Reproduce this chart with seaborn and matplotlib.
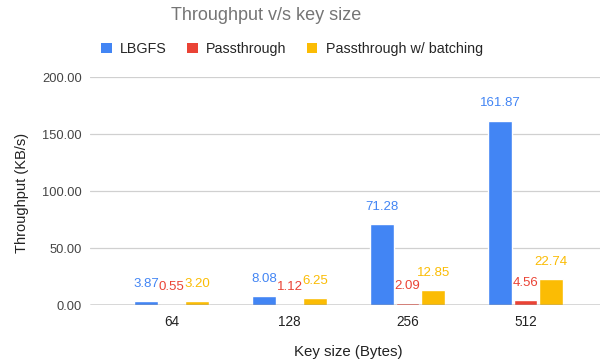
import seaborn as sns
import pandas as pd
import matplotlib.pyplot as plt
from matplotlib.patches import Patch

# Chart data
key_sizes = ['64', '128', '256', '512']
series_names = ['LBGFS', 'Passthrough', 'Passthrough w/ batching']
lbgfs = [3.87, 8.08, 71.28, 161.87]
passthrough = [0.55, 1.12, 2.09, 4.56]
passthrough_batching = [3.20, 6.25, 12.85, 22.74]
y_ticks = [0, 50, 100, 150, 200]

colors = ['#4285F4', '#EA4335', '#FBBC04']

# Long-form table for seaborn
rows = []
for name, vals in zip(series_names, [lbgfs, passthrough, passthrough_batching]):
    for k, v in zip(key_sizes, vals):
        rows.append({'Key size': k, 'Series': name, 'Throughput': v})
df = pd.DataFrame(rows)

sns.set_theme(style='white')
plt.rcParams['font.family'] = ['Liberation Sans', 'DejaVu Sans']

fig = plt.figure(figsize=(6, 3.64), dpi=100)
ax = fig.add_axes([0.15, 0.162, 0.85, 0.626])

sns.barplot(data=df, x='Key size', y='Throughput', hue='Series',
            order=key_sizes, hue_order=series_names, palette=colors,
            width=0.65, gap=0.08, saturation=1, legend=False, ax=ax)

# Value labels above bars
for container, c in zip(ax.containers, colors):
    ax.bar_label(container, fmt='%.2f', padding=8, color=c, fontsize=9.5)

ax.set_ylim(0, 200)
ax.set_xlim(-0.69, 3.63)
ax.set_yticks(y_ticks)
ax.set_yticklabels([f'{t:.2f}' for t in y_ticks])
ax.yaxis.grid(True, color='#d0d0d0', linewidth=0.9)
ax.set_axisbelow(True)
ax.axhline(0, color='#555555', linewidth=1.0, zorder=1)
for s in ax.spines.values():
    s.set_visible(False)
ax.tick_params(axis='both', length=0, labelsize=9.3, labelcolor='#444444')
ax.tick_params(axis='x', labelsize=9.8, labelcolor='#222222', pad=7)
ax.tick_params(axis='y', pad=6)
ax.set_xlabel('')
ax.set_ylabel('')

# Titles and axis labels
fig.text(266 / 600, 1 - 16 / 364, 'Throughput v/s key size', ha='center', va='center',
         fontsize=13, color='#757575')
fig.text(22 / 600, 1 - 193 / 364, 'Throughput (KB/s)', rotation=90, ha='center',
         va='center', fontsize=10.5, color='#222222')
fig.text(348 / 600, 1 - 352 / 364, 'Key size (Bytes)', ha='center', va='center',
         fontsize=10.8, color='#222222')

# Legend
handles = [Patch(facecolor=c, edgecolor='none') for c in colors]
fig.legend(handles, series_names, loc='center', bbox_to_anchor=(292 / 600, 1 - 49 / 364),
           ncol=3, frameon=False, fontsize=10.3, handlelength=0.75, handleheight=0.75,
           handletextpad=0.6, columnspacing=1.4)

fig.savefig('out.png', dpi=100)
